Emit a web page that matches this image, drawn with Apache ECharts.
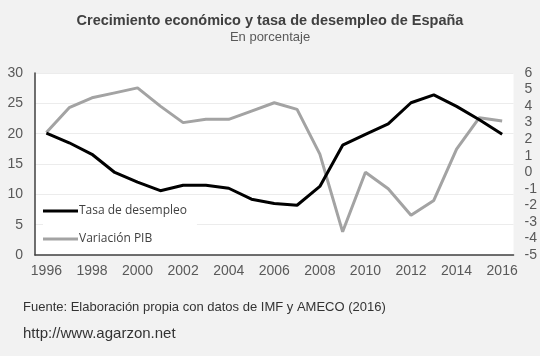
<!DOCTYPE html>
<html><head><meta charset="utf-8">
<script src="https://cdn.jsdelivr.net/npm/echarts@6/dist/echarts.min.js"></script>
<style>html,body{margin:0;padding:0;background:#f2f2f2}#c{width:540px;height:356px}</style>
</head><body><div id="c"></div>
<script>
const years = ['1996','1997','1998','1999','2000','2001','2002','2003','2004','2005','2006','2007','2008','2009','2010','2011','2012','2013','2014','2015','2016'];
const desempleo = [20.1,18.5,16.6,13.6,12.0,10.6,11.5,11.5,11.0,9.2,8.5,8.2,11.3,18.1,19.9,21.6,25.1,26.4,24.5,22.3,19.9];
const pib = [2.4,3.9,4.5,4.8,5.1,4.0,3.0,3.2,3.2,3.7,4.2,3.8,1.1,-3.6,0.0,-1.0,-2.6,-1.7,1.4,3.3,3.1];
const title = 'Crecimiento económico y tasa de desempleo de España';
const subtitle = 'En porcentaje';
const fuente = 'Fuente: Elaboración propia con datos de IMF y AMECO (2016)';
const web = 'http://www.agarzon.net';

const chart = echarts.init(document.getElementById('c'));
const F = 'Liberation Sans, Arial, sans-serif';
chart.setOption({
  backgroundColor: '#f2f2f2',
  animation: false,
  title: [
    {text: title, subtext: subtitle, left: 'center', top: 8, itemGap: 3,
     textStyle: {fontFamily: F, fontSize: 14.5, fontWeight: 'bold', color: '#404040'},
     subtextStyle: {fontFamily: F, fontSize: 13, color: '#595959'}},
    {text: fuente, left: 18, top: 296, textStyle: {fontFamily: F, fontSize: 13, fontWeight: 'normal', color: '#333'}},
    {text: web, left: 18, top: 321, textStyle: {fontFamily: F, fontSize: 15, fontWeight: 'normal', color: '#333'}}
  ],
  grid: {left: 35, right: 26, top: 73, bottom: 101, show: true, backgroundColor: '#fff', borderWidth: 0},
  legend: {
    orient: 'vertical', left: 43, top: 205, itemGap: 16, itemWidth: 35, itemHeight: 3,
    backgroundColor: '#fff', padding: [0, 10, 0, 0],
    icon: 'rect',
    textStyle: {fontFamily: 'Open Sans, sans-serif', fontSize: 12, color: '#404040', padding: [0, 0, 0, -4]},
    data: ['Tasa de desempleo', 'Variación PIB']
  },
  xAxis: {
    type: 'category', data: years, boundaryGap: true,
    axisLine: {lineStyle: {color: '#404040', width: 1.5}},
    axisTick: {show: false},
    axisLabel: {interval: 1, fontFamily: F, fontSize: 14, color: '#595959', margin: 9}
  },
  yAxis: [
    {type: 'value', min: 0, max: 30, interval: 5,
     axisLine: {show: true, lineStyle: {color: '#404040', width: 1.5}},
     axisTick: {show: false},
     axisLabel: {fontFamily: F, fontSize: 14, color: '#595959', margin: 12},
     splitLine: {lineStyle: {color: '#ececec'}}},
    {type: 'value', min: -5, max: 6, interval: 1,
     axisLine: {show: false}, axisTick: {show: false},
     axisLabel: {fontFamily: F, fontSize: 14, color: '#595959', margin: 11},
     splitLine: {show: false}}
  ],
  series: [
    {name: 'Tasa de desempleo', type: 'line', yAxisIndex: 0, data: desempleo, symbol: 'none',
     lineStyle: {color: '#000', width: 3}, itemStyle: {color: '#000'}, z: 3},
    {name: 'Variación PIB', type: 'line', yAxisIndex: 1, data: pib, symbol: 'none',
     lineStyle: {color: '#a3a3a3', width: 3}, itemStyle: {color: '#a3a3a3'}, z: 2}
  ]
});
</script></body></html>
